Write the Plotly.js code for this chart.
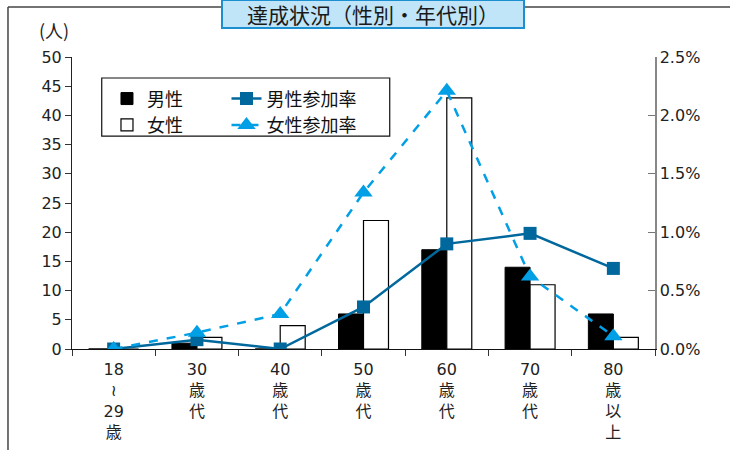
<!DOCTYPE html>
<html>
<head>
<meta charset="utf-8">
<script src="https://cdn.plot.ly/plotly-3.0.1.min.js"></script>
<style>html,body{margin:0;padding:0;background:#fff;}#chart{width:730px;height:450px;}</style>
</head>
<body>
<div id="chart"></div>
<script>
const categories = ["18-29", "30s", "40s", "50s", "60s", "70s", "80+"];
const tickLabels = ["18<br>≀<br>29<br>歳", "30<br>歳<br>代", "40<br>歳<br>代", "50<br>歳<br>代", "60<br>歳<br>代", "70<br>歳<br>代", "80<br>歳<br>以<br>上"];
const maleCount = [0, 1, 0, 6, 17, 14, 6];
const femaleCount = [0, 2, 4, 22, 43, 11, 2];
const maleRate = [0, 0.0008, 0, 0.0036, 0.009, 0.0099, 0.0069];
const femaleRate = [0, 0.0014, 0.0030, 0.0134, 0.0221, 0.0062, 0.0011];

const FONT = "DejaVu Sans, Noto Sans CJK JP, sans-serif";
const CJK = "Noto Sans CJK JP, sans-serif";
const MALE_LINE = "#00689c";
const FEMALE_LINE = "#009fe6";

const traces = [
  {type: "bar", name: "男性", x: categories, y: maleCount, marker: {color: "#000", line: {color: "#000", width: 1}}, legend: "legend"},
  {type: "bar", name: "女性", x: categories, y: femaleCount, marker: {color: "#fff", line: {color: "#000", width: 1.2}}, legend: "legend"},
  {type: "scatter", mode: "lines+markers", name: "男性参加率", x: categories, y: maleRate, yaxis: "y2",
   line: {color: MALE_LINE, width: 2.5}, marker: {symbol: "square", size: 13, color: MALE_LINE}, legend: "legend2"},
  {type: "scatter", mode: "lines+markers", name: "女性参加率", x: categories, y: femaleRate, yaxis: "y2",
   line: {color: FEMALE_LINE, width: 2.5, dash: "dash"}, marker: {symbol: "triangle-up", size: 16, color: FEMALE_LINE}, legend: "legend2"}
];

const layout = {
  width: 730, height: 450,
  margin: {l: 72, r: 75, t: 57, b: 101},
  paper_bgcolor: "#fff", plot_bgcolor: "#fff",
  font: {family: FONT, size: 15, color: "#222"},
  barmode: "group", bargap: 0.4, bargroupgap: 0,
  showlegend: true,
  xaxis: {
    type: "category", tickmode: "array", tickvals: categories, ticktext: tickLabels,
    tickson: "boundaries", ticks: "outside", ticklen: 6, tickcolor: "#333",
    ticklabelstandoff: 6,
    showline: true, linecolor: "#111", linewidth: 1, showgrid: false, zeroline: false,
    tickfont: {size: 16, color: "#222", family: FONT}, fixedrange: true
  },
  yaxis: {
    range: [0, 50], dtick: 5, ticks: "outside", ticklen: 6, tickcolor: "#333",
    showline: true, linecolor: "#222", linewidth: 1, showgrid: false, zeroline: false,
    tickfont: {size: 16, color: "#222", family: FONT}
  },
  yaxis2: {
    overlaying: "y", side: "right", range: [0, 0.025], tickvals: [0, 0.005, 0.01, 0.015, 0.02, 0.025],
    tickformat: ".1%", ticks: "inside", ticklen: 7, tickcolor: "#777",
    showline: true, linecolor: "#888", linewidth: 1.5, showgrid: false, zeroline: false,
    tickfont: {size: 16, color: "#222", family: FONT}
  },
  legend: {x: 0.06, y: 0.92, xanchor: "left", yanchor: "top", bgcolor: "rgba(0,0,0,0)", borderwidth: 0,
           font: {size: 18, color: "#111", family: CJK}, tracegroupgap: 0, traceorder: "normal"},
  legend2: {x: 0.265, y: 0.92, xanchor: "left", yanchor: "top", bgcolor: "rgba(0,0,0,0)", borderwidth: 0,
            font: {size: 18, color: "#111", family: CJK}, tracegroupgap: 0, traceorder: "normal"},
  shapes: [
    {type: "rect", xref: "paper", yref: "paper", x0: 0.051, x1: 0.545, y0: 0.729, y1: 0.928, line: {color: "#111", width: 1.2}},
    {type: "line", xref: "paper", yref: "paper", x0: -0.1098, x1: 1.2, y0: 1.171, y1: 1.171, line: {color: "#444", width: 1.5}},
    {type: "line", xref: "paper", yref: "paper", x0: -0.1098, x1: -0.1098, y0: 1.171, y1: -0.4, line: {color: "#444", width: 1.5}}
  ],
  annotations: [
    {text: "達成状況（性別・年代別）", xref: "paper", yref: "paper", x: 0.516, y: 1.148, xanchor: "center", yanchor: "middle",
     showarrow: false, bgcolor: "#c0e4f8", bordercolor: "#1b8fd0", borderwidth: 2, width: 300, height: 26, borderpad: 0,
     font: {size: 21, color: "#1a1a1a", family: CJK}},
    {text: "(人)", xref: "paper", yref: "paper", x: -0.031, y: 1.092, xanchor: "center", yanchor: "middle",
     showarrow: false, font: {size: 18, color: "#222", family: CJK}}
  ]
};

Plotly.newPlot("chart", traces, layout, {displayModeBar: false, staticPlot: true});
</script>
</body>
</html>
